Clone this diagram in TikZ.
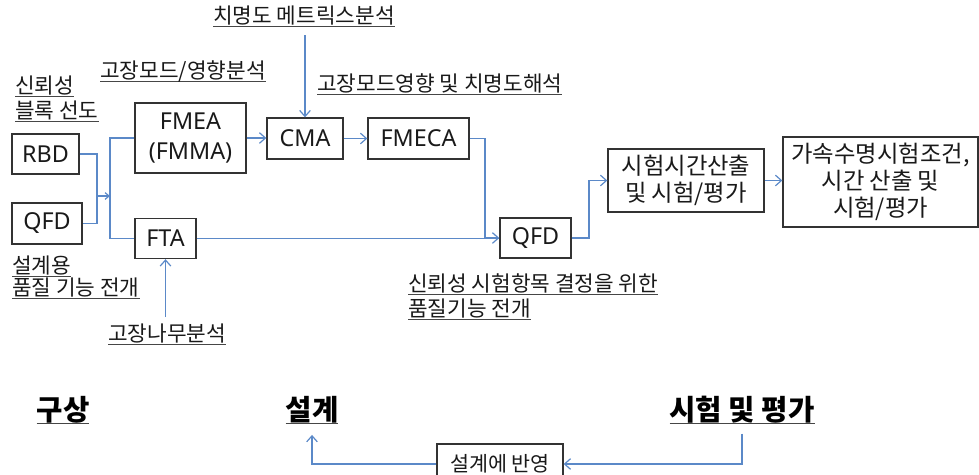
\documentclass[tikz,border=0pt]{standalone}
\usepackage{fontspec}
\setmainfont{Noto Sans CJK KR}
\newfontfamily\latinf{Noto Sans}
\usetikzlibrary{arrows.meta}
\definecolor{conn}{RGB}{91,137,200}
\definecolor{ink}{RGB}{25,25,25}
\definecolor{ulc}{RGB}{70,70,70}
\newcommand\ulx[1]{\setbox0\hbox{#1}\rlap{\color{ulc}\rule[-3pt]{\wd0}{1pt}}\box0}
\tikzset{
  bx/.style n args={2}{draw=black!80, line width=1pt, inner sep=0pt,
    minimum width=#1*0.75pt, minimum height=#2*0.75pt, text=ink, align=center},
  lat/.style={font=\latinf\fontsize{17.5}{22}\selectfont},
  kor/.style={font=\fontsize{17.5}{20}\selectfont},
  lbl/.style={anchor=base west, inner sep=0pt, text=ink, font=\fontsize{16}{18}\selectfont},
  big/.style={anchor=base, inner sep=0pt, text=black, font=\bfseries\fontsize{21.5}{24}\selectfont},
  cn/.style={draw=conn, line width=0.9pt},
  ar/.style={cn, -{Straight Barb[length=4.5pt,width=8pt]}},
}
\begin{document}
\begin{tikzpicture}[x=0.75pt,y=-0.75pt]
\useasboundingbox (0,0) rectangle (979,475);
\clip (0,0) rectangle (979,475);
% boxes
\node[bx={67}{40},lat] (rbd) at (45.5,154) {RBD};
\node[bx={70}{41},lat] (qfdl) at (47,223.5) {QFD};
\node[bx={111}{70},lat] (fmea) at (190.5,138) {FMEA\\(FMMA)};
\node[bx={61}{40},lat] (fta) at (165.5,238.5) {FTA};
\node[bx={76}{41},lat] (cma) at (305,138.5) {CMA};
\node[bx={101}{41},lat] (fmeca) at (418.5,138.5) {FMECA};
\node[bx={71}{40},lat] (qfdr) at (535.5,238) {QFD};
\node[bx={156}{63},kor] (test) at (686,180.5) {시험시간산출\\및 시험/평가};
\node[bx={195}{90},kor] (accel) at (880.5,182) {가속수명시험조건,\\시간 산출 및\\시험/평가};
% labels
\node[lbl] (l1) at (15,93) {\ulx{신뢰성}};
\node[lbl] (l2) at (15,118) {\ulx{블록 선도}};
\node[lbl] (l3) at (100,78) {\ulx{고장모드/영향분석}};
\node[lbl] (l4) at (213,23) {\ulx{치명도 메트릭스분석}};
\node[lbl] (l5) at (317,91) {\ulx{고장모드영향 및 치명도해석}};
\node[lbl] (l6) at (12,273) {\ulx{설계용}};
\node[lbl] (l7) at (12,295) {\ulx{품질 기능 전개}};
\node[lbl] (l8) at (108,341) {\ulx{고장나무분석}};
\node[lbl] (l9) at (408,291) {\ulx{신뢰성 시험항목 결정을 위한}};
\node[lbl] (l10) at (408,316) {\ulx{품질기능 전개}};
% bottom
\node[big] (plan) at (63,420) {\ulx{구상}};
\node[big] (dsgn) at (312,420) {\ulx{설계}};
\node[big] (evl) at (742,420) {\ulx{시험 및 평가}};
\node[bx={126}{40}, font=\fontsize{15.5}{17}\selectfont] (refl) at (500,464) {설계에 반영};
% helper coordinates
\coordinate (mL) at (97,196);
\coordinate (sp) at (110,196);
\coordinate (jr) at (485,190);
\coordinate (jt) at (589,210);
\coordinate (mtxfoot) at ([yshift=-6pt]l4.south);
\coordinate (ftafoot) at ([yshift=4.5pt]l8.north);
\coordinate (evlfoot) at ([yshift=-7pt]evl.south);
\coordinate (dsgnfoot) at ([yshift=-8pt]dsgn.south);
% connectors
\draw[cn] (rbd.east) -| (mL) |- (qfdl.east);
\draw[cn, -{Straight Barb[length=3pt,width=5pt]}] (mL) -- (sp);
\draw[cn] (fmea.west) -| (sp) |- (fta.west);
\draw[ar] (fmea.east) -- (fmea.east -| cma.west);
\draw[ar] (cma.north |- mtxfoot) -- (cma.north);
\draw[ar] (cma.east) -- (fmeca.west);
\draw[cn] (fta.east) -- (fta.east -| qfdr.west);
\draw[ar] (fmeca.east) -| (jr) |- (qfdr.west);
\draw[ar] (qfdr.east) -| (jt) |- (test.west);
\draw[ar] (test.east) -- (test.east -| accel.west);
\draw[ar] (fta.south |- ftafoot) -- (fta.south);
\draw[ar] (evlfoot) |- (refl.east);
\draw[ar] (refl.west) -| (dsgnfoot);
\end{tikzpicture}
\end{document}
